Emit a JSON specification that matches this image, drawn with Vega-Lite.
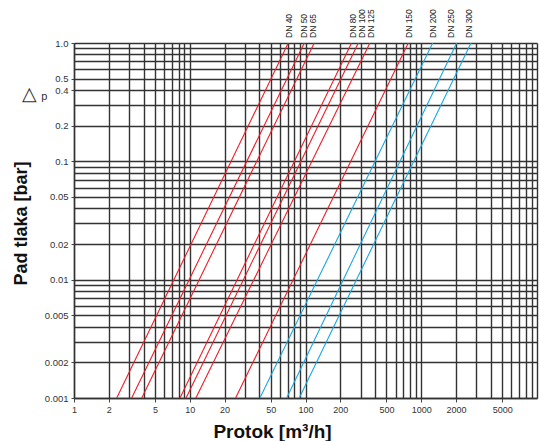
{
  "$schema": "https://vega.github.io/schema/vega-lite/v6.json",
  "width": 463,
  "height": 355,
  "autosize": {"type": "none"},
  "padding": {"left": 74, "top": 43, "right": 2, "bottom": 43},
  "background": "white",
  "config": {"view": {"stroke": null}, "font": "Liberation Sans"},
  "datasets": {
    "curves": [
      {"dn": "DN 40", "grp": "red", "Q": 2.34, "dp": 0.001},
      {"dn": "DN 40", "grp": "red", "Q": 71, "dp": 1},
      {"dn": "DN 50", "grp": "red", "Q": 3.15, "dp": 0.001},
      {"dn": "DN 50", "grp": "red", "Q": 97.7, "dp": 1},
      {"dn": "DN 65", "grp": "red", "Q": 3.85, "dp": 0.001},
      {"dn": "DN 65", "grp": "red", "Q": 119, "dp": 1},
      {"dn": "DN 80", "grp": "red", "Q": 8.24, "dp": 0.001},
      {"dn": "DN 80", "grp": "red", "Q": 250, "dp": 1},
      {"dn": "DN 100", "grp": "red", "Q": 9.29, "dp": 0.001},
      {"dn": "DN 100", "grp": "red", "Q": 286, "dp": 1},
      {"dn": "DN 125", "grp": "red", "Q": 11.3, "dp": 0.001},
      {"dn": "DN 125", "grp": "red", "Q": 360, "dp": 1},
      {"dn": "DN 150", "grp": "red", "Q": 24.9, "dp": 0.001},
      {"dn": "DN 150", "grp": "red", "Q": 773, "dp": 1},
      {"dn": "DN 200", "grp": "blue", "Q": 40.4, "dp": 0.001},
      {"dn": "DN 200", "grp": "blue", "Q": 1256, "dp": 1},
      {"dn": "DN 250", "grp": "blue", "Q": 68.8, "dp": 0.001},
      {"dn": "DN 250", "grp": "blue", "Q": 2023, "dp": 1},
      {"dn": "DN 300", "grp": "blue", "Q": 88.3, "dp": 0.001},
      {"dn": "DN 300", "grp": "blue", "Q": 2692, "dp": 1}
    ],
    "labels": [
      {"dn": "DN 40", "Q": 72, "dp": 1},
      {"dn": "DN 50", "Q": 97, "dp": 1},
      {"dn": "DN 65", "Q": 116, "dp": 1},
      {"dn": "DN 80", "Q": 258, "dp": 1},
      {"dn": "DN 100", "Q": 307, "dp": 1},
      {"dn": "DN 125", "Q": 368, "dp": 1},
      {"dn": "DN 150", "Q": 783, "dp": 1},
      {"dn": "DN 200", "Q": 1259, "dp": 1},
      {"dn": "DN 250", "Q": 1807, "dp": 1},
      {"dn": "DN 300", "Q": 2588, "dp": 1}
    ],
    "tri": [{"t": "△", "Q": 0.48, "dp": 0.33}],
    "pp": [{"t": "p", "Q": 0.52, "dp": 0.33}]
  },
  "layer": [
    {
      "data": {"name": "curves"},
      "mark": {"type": "line", "strokeWidth": 1.1, "clip": true},
      "encoding": {
        "x": {
          "field": "Q",
          "type": "quantitative",
          "scale": {"type": "log", "domain": [1, 10000], "nice": false},
          "axis": {
            "values": [1,2,3,4,5,6,7,8,9,10,20,30,40,50,60,70,80,90,100,200,300,400,500,600,700,800,900,1000,2000,3000,4000,5000,6000,7000,8000,9000,10000],
            "grid": true,
            "gridColor": "#333333",
            "gridWidth": 1.4,
            "gridOpacity": 1,
            "domain": true,
            "domainColor": "#333333",
            "domainWidth": 1.4,
            "tickColor": "#444",
            "tickSize": 4,
            "tickOpacity": {"condition": {"test": "indexof([1,2,5,10,20,50,100,200,500,1000,2000,5000], datum.value) >= 0", "value": 1}, "value": 0},
            "labelExpr": "indexof([1,2,5,10,20,50,100,200,500,1000,2000,5000], datum.value) >= 0 ? format(datum.value, 'd') : ''",
            "labelFontSize": 9,
            "labelColor": "#333",
            "labelPadding": 3,
            "labelFlush": false,
            "labelOverlap": false,
            "title": "Protok [m³/h]",
            "titleFontSize": 19,
            "titleFontWeight": "bold",
            "titleColor": "#111",
            "titleX": 198,
            "titleY": 39,
            "titleAlign": "center",
            "titleBaseline": "alphabetic",
            "titleAnchor": null
          }
        },
        "y": {
          "field": "dp",
          "type": "quantitative",
          "scale": {"type": "log", "domain": [0.001, 1], "nice": false},
          "axis": {
            "values": [0.001,0.002,0.003,0.004,0.005,0.006,0.007,0.008,0.009,0.01,0.02,0.03,0.04,0.05,0.06,0.07,0.08,0.09,0.1,0.2,0.3,0.4,0.5,0.6,0.7,0.8,0.9,1],
            "grid": true,
            "gridColor": "#333333",
            "gridWidth": 1.4,
            "gridOpacity": 1,
            "domain": true,
            "domainColor": "#333333",
            "domainWidth": 1.4,
            "tickColor": "#444",
            "tickSize": 3,
            "tickOpacity": {"condition": {"test": "indexof([0.001,0.002,0.005,0.01,0.02,0.05,0.1,0.2,0.4,0.5,1], datum.value) >= 0", "value": 1}, "value": 0},
            "labelExpr": "datum.value == 1 ? '1.0' : (indexof([0.001,0.002,0.005,0.01,0.02,0.05,0.1,0.2,0.4,0.5], datum.value) >= 0 ? '' + datum.value : '')",
            "labelFontSize": 9.5,
            "labelColor": "#333",
            "labelPadding": 3,
            "labelFlush": false,
            "labelOverlap": false,
            "title": "Pad tlaka [bar]",
            "titleFontSize": 18,
            "titleFontWeight": "bold",
            "titleColor": "#111",
            "titleAngle": 270,
            "titleX": -48,
            "titleY": 180,
            "titleAlign": "center",
            "titleBaseline": "alphabetic",
            "titleAnchor": null
          }
        },
        "detail": {"field": "dn"},
        "color": {
          "field": "grp",
          "type": "nominal",
          "scale": {"domain": ["red", "blue"], "range": ["#ee1c25", "#1aa7e0"]},
          "legend": null
        }
      }
    },
    {
      "data": {"name": "labels"},
      "mark": {"type": "text", "angle": 270, "align": "left", "baseline": "middle", "dx": 5, "fontSize": 8.5, "color": "#222"},
      "encoding": {
        "x": {"field": "Q", "type": "quantitative"},
        "y": {"field": "dp", "type": "quantitative"},
        "text": {"field": "dn"}
      }
    },
    {
      "data": {"name": "tri"},
      "mark": {"type": "text", "align": "right", "baseline": "alphabetic", "fontSize": 19, "font": "DejaVu Sans", "fontWeight": 300, "color": "#333"},
      "encoding": {
        "x": {"field": "Q", "type": "quantitative"},
        "y": {"field": "dp", "type": "quantitative"},
        "text": {"field": "t"}
      }
    },
    {
      "data": {"name": "pp"},
      "mark": {"type": "text", "align": "left", "baseline": "alphabetic", "fontSize": 11, "color": "#333"},
      "encoding": {
        "x": {"field": "Q", "type": "quantitative"},
        "y": {"field": "dp", "type": "quantitative"},
        "text": {"field": "t"}
      }
    }
  ]
}
